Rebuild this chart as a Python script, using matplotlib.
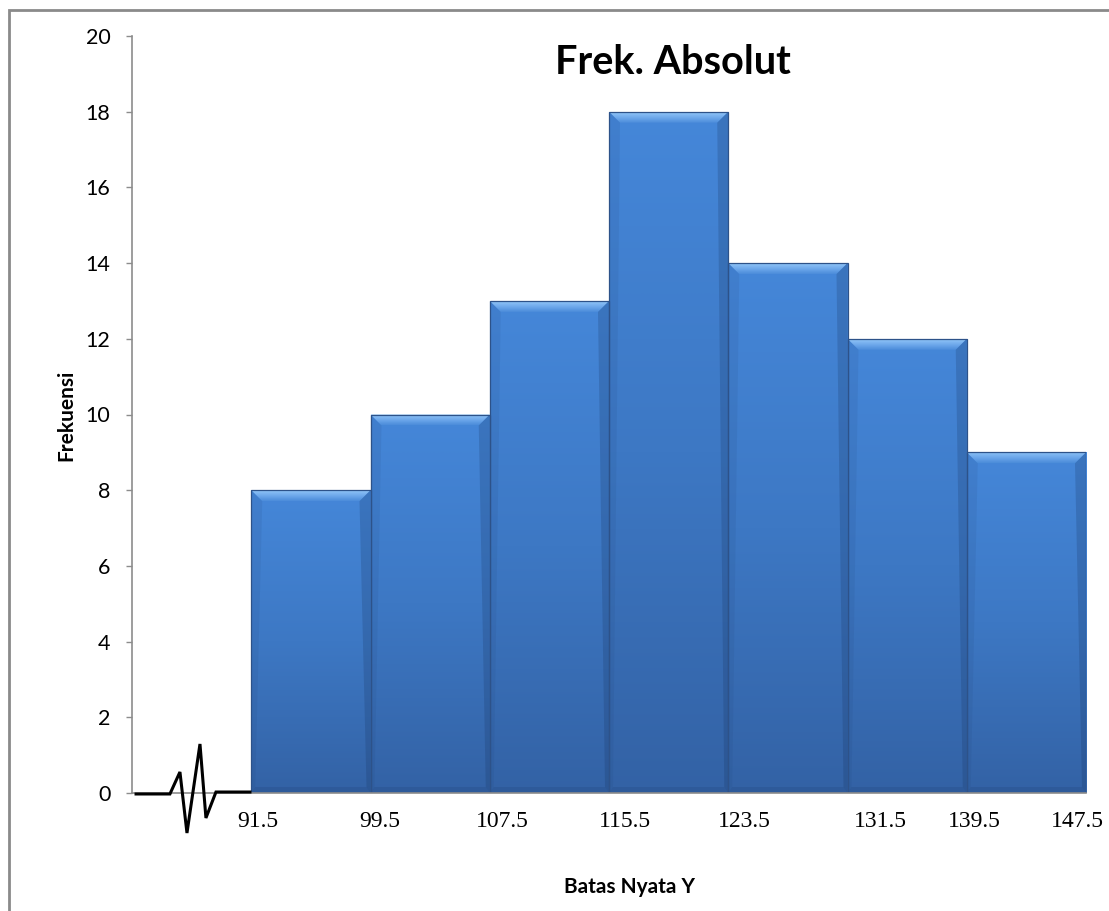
import numpy as np
import matplotlib
matplotlib.use("Agg")
import matplotlib.pyplot as plt
from matplotlib.patches import Polygon, Rectangle
from matplotlib.colors import LinearSegmentedColormap
import matplotlib.transforms as mtransforms

# Class boundaries (batas nyata) and absolute frequencies
class_bounds = ["91.5", "99.5", "107.5", "115.5", "123.5", "131.5", "139.5", "147.5"]
frequencies = [8, 10, 13, 18, 14, 12, 9]

W, H = 1109, 911
fig = plt.figure(figsize=(W / 100, H / 100), dpi=100)
fig.patch.set_facecolor("white")

# outer chart frame
fig.patches.append(Rectangle((9 / W, -0.1), 1.2, 1 - 10 / H + 0.1,
                             transform=fig.transFigure, fill=False,
                             edgecolor="#8a8a8a", linewidth=2.0, zorder=0))

ax = fig.add_axes([132 / W, 1 - 793 / H, 954 / W, 757 / H])
n_slots = len(class_bounds)
ax.set_xlim(0, n_slots)
ax.set_ylim(0, 20)

px_x = 954 / n_slots   # pixels per category
px_y = 757 / 20        # pixels per frequency unit

face_cmap = LinearSegmentedColormap.from_list("face", ["#3362a5", "#3d78c4", "#4587d9"])
top_cmap = LinearSegmentedColormap.from_list("topbev", ["#4a8bd9", "#6fa9ec", "#92c7f7"])
grad = np.linspace(0, 1, 256).reshape(-1, 1)

lefts = np.arange(1, len(frequencies) + 1)
bars = ax.bar(lefts, frequencies, width=1.0, align="edge",
              color="none", edgecolor="#2d5289", linewidth=0.9, zorder=3)

sx_top = 11 / px_x
sy_top = 11 / px_y
sx = 4 / px_x
sy_bot = 6 / px_y

for rect in bars:
    x0 = rect.get_x()
    x1 = x0 + rect.get_width()
    h = rect.get_height()
    im = ax.imshow(grad, extent=[x0, x1, 0, h], origin="lower", aspect="auto",
                   cmap=face_cmap, zorder=2, interpolation="bicubic")
    im.set_clip_path(rect)
    # top bevel
    tp = Polygon([(x0, h), (x1, h), (x1 - sx_top, h - sy_top), (x0 + sx_top, h - sy_top)],
                 closed=True, facecolor="none", edgecolor="none", zorder=2.5)
    ax.add_patch(tp)
    imt = ax.imshow(grad, extent=[x0, x1, h - sy_top, h], origin="lower", aspect="auto",
                    cmap=top_cmap, zorder=2.5, interpolation="bicubic")
    imt.set_clip_path(tp)
    # left bevel
    ax.add_patch(Polygon([(x0, 0), (x0, h), (x0 + sx_top, h - sy_top), (x0 + sx, sy_bot)],
                         closed=True, facecolor="#1d3d70", alpha=0.10,
                         edgecolor="none", zorder=2.6))
    # right bevel (darker)
    ax.add_patch(Polygon([(x1, 0), (x1, h), (x1 - sx_top, h - sy_top), (x1 - sx, sy_bot)],
                         closed=True, facecolor="#132c55", alpha=0.2,
                         edgecolor="none", zorder=2.6))
    # bottom bevel
    ax.add_patch(Polygon([(x0, 0), (x1, 0), (x1 - sx, sy_bot), (x0 + sx, sy_bot)],
                         closed=True, facecolor="#14305e", alpha=0.15,
                         edgecolor="none", zorder=2.6))

# axis break mark in the empty first slot
break_x = [0.034, 0.318, 0.402, 0.461, 0.570, 0.620, 0.704, 0.989]
break_y = [-0.026, -0.026, 0.555, -1.057, 1.295, -0.66, 0.026, 0.026]
ax.plot(break_x, break_y, color="black", linewidth=2.2, clip_on=False, zorder=5,
        solid_joinstyle="miter")

# spines and ticks
for s in ["top", "right"]:
    ax.spines[s].set_visible(False)
for s in ["left", "bottom"]:
    ax.spines[s].set_color("#8c8c8c")
    ax.spines[s].set_linewidth(1.2)
ax.spines["bottom"].set_zorder(4)

ax.set_yticks(np.arange(0, 21, 2))
ax.tick_params(axis="y", direction="out", length=4.5, width=1.0, color="#8c8c8c",
               pad=11, labelsize=15.5)
for lab in ax.get_yticklabels():
    lab.set_family("Lato")

ax.set_xticks(np.arange(1, n_slots + 1))
ax.set_xticklabels(class_bounds, family="Liberation Serif", fontsize=17)
ax.tick_params(axis="x", length=0, pad=13)
# per-label horizontal nudges (pixels)
nudges = [7, 9, 13, 16, 16, 33, 8, -9]
for lab, dx in zip(ax.get_xticklabels(), nudges):
    lab.set_transform(lab.get_transform() + mtransforms.ScaledTranslation(dx / 100, 0, fig.dpi_scale_trans))

fig.text(673 / W, 1 - 62 / H, "Frek. Absolut", family="Lato", fontweight="bold",
         fontsize=28.5, ha="center", va="center")
fig.text(66 / W, 1 - 415 / H, "Frekuensi", family="Lato", fontweight="bold",
         fontsize=15, ha="center", va="center", rotation=90)
fig.text(630 / W, 1 - 887 / H, "Batas Nyata Y", family="Lato", fontweight="bold",
         fontsize=15, ha="center", va="center")

fig.savefig("out.png", dpi=100)
